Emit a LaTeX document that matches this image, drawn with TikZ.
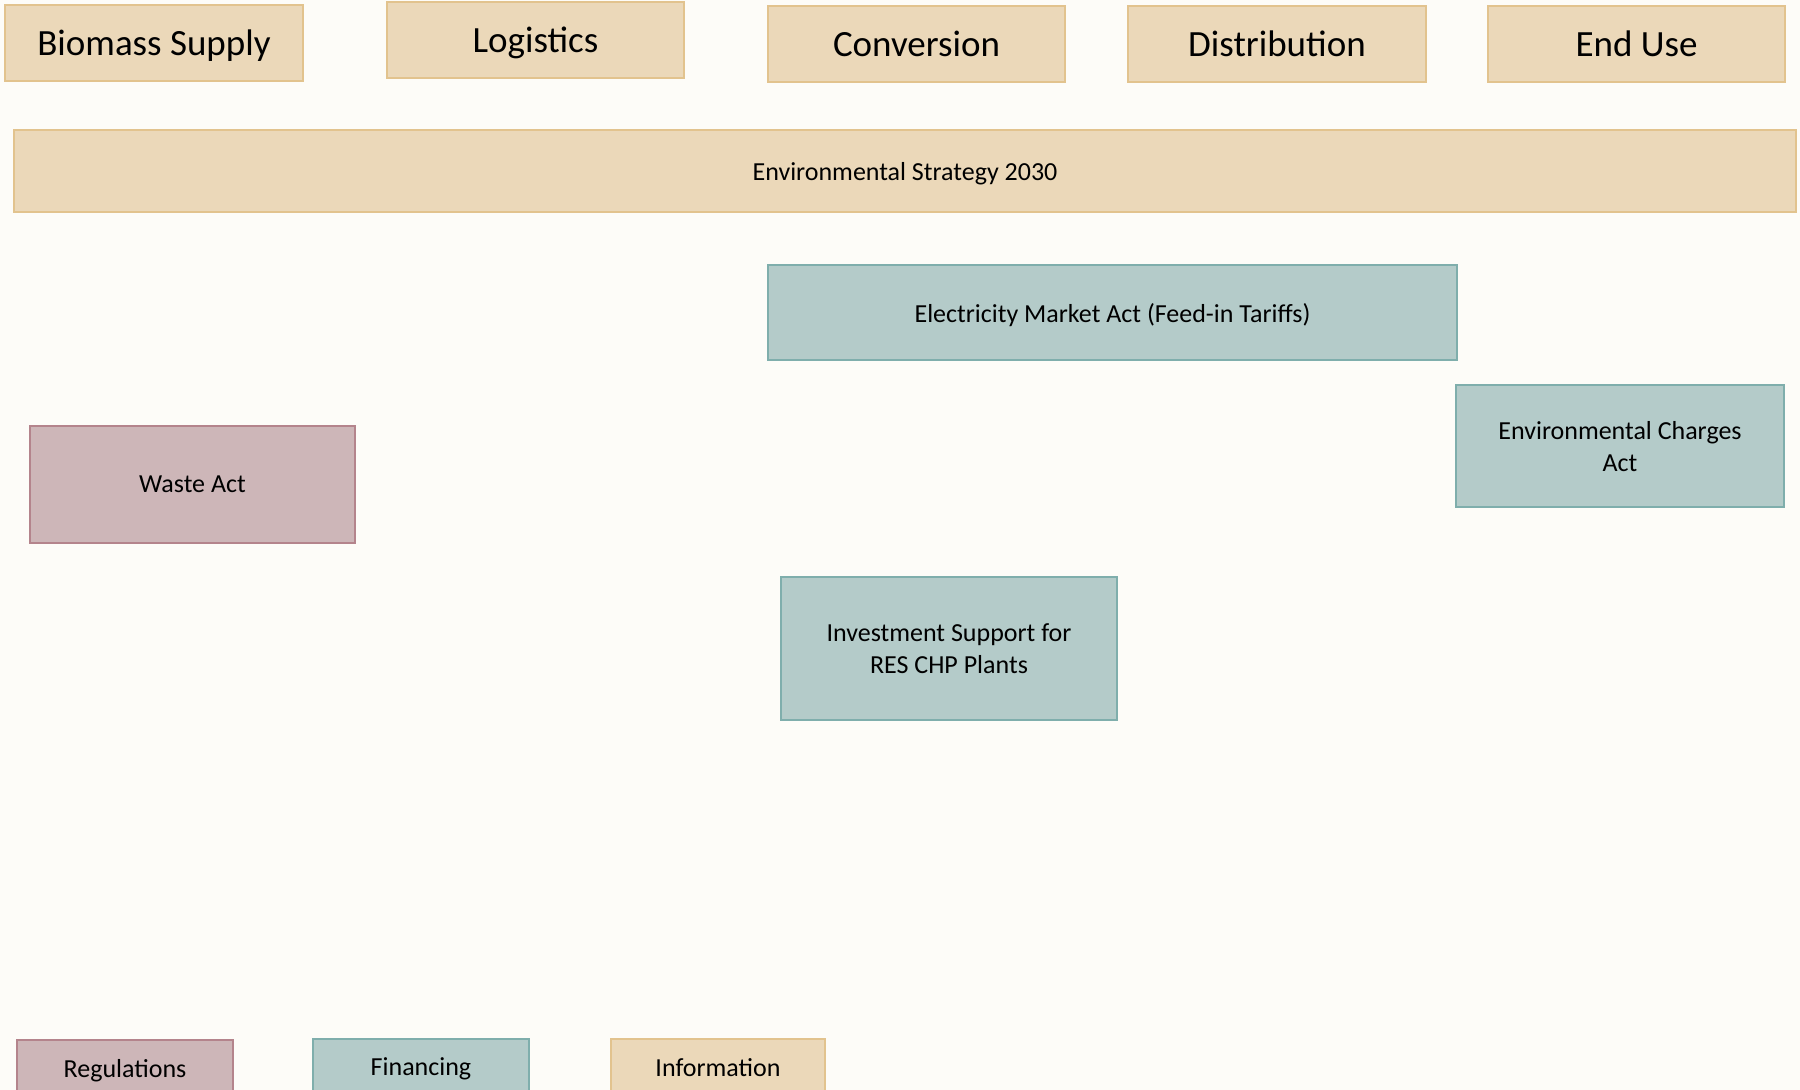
\documentclass[tikz,border=0pt]{standalone}
\usepackage{fontspec}
\setmainfont{Carlito}
\usetikzlibrary{positioning}
\definecolor{bgcol}{HTML}{FDFCF8}
\definecolor{infofill}{HTML}{EBD8B9}
\definecolor{infodraw}{HTML}{E2C38E}
\definecolor{finfill}{HTML}{B4CBC9}
\definecolor{findraw}{HTML}{7FAEAC}
\definecolor{regfill}{HTML}{CDB6B8}
\definecolor{regdraw}{HTML}{B4848C}
\tikzstyle{basebox}=[draw, line width=2pt, rectangle, inner sep=0pt, text depth=0pt, align=center, font=\fontsize{26}{32}\selectfont]
\tikzstyle{stagebox}=[basebox, fill=infofill, draw=infodraw, minimum height=76pt, font=\fontsize{37}{44}\selectfont]
\tikzstyle{infobox}=[basebox, fill=infofill, draw=infodraw]
\tikzstyle{finbox}=[basebox, fill=finfill, draw=findraw]
\tikzstyle{regbox}=[basebox, fill=regfill, draw=regdraw]

\begin{document}
\begin{tikzpicture}[x=1pt, y=-1pt]
    \fill[bgcol] (0,0) rectangle (1800,1090);
    \useasboundingbox (0,0) rectangle (1800,1090);

    % value chain stages
    \node[stagebox, minimum width=298pt] (biomass) at (154, 43) {Biomass Supply};
    \node[stagebox, minimum width=297pt] (logistics) at (535.5, 40) {Logistics};
    \node[stagebox, minimum width=297pt] (conversion) at (916.5, 44) {Conversion};
    \node[stagebox, minimum width=298pt] (distribution) at (1277, 44) {Distribution};
    \node[stagebox, minimum width=297pt] (enduse) at (1636.5, 44) {End Use};

    % policies
    \node[infobox, minimum width=1782pt, minimum height=82pt] (strategy) at (905, 171) {Environmental Strategy 2030};
    \node[finbox, minimum width=689pt, minimum height=95pt] (electricity) at (1112.5, 312.5) {Electricity Market Act (Feed-in Tariffs)};
    \node[finbox, minimum width=328pt, minimum height=122pt] (charges) at (1620, 446) {Environmental Charges\\Act};
    \node[regbox, minimum width=325pt, minimum height=117pt] (waste) at (192.5, 484.5) {Waste Act};
    \node[finbox, minimum width=336pt, minimum height=143pt] (investment) at (949, 648.5) {Investment Support for\\RES CHP Plants};

    % legend
    \node[regbox, minimum width=216pt, minimum height=56pt] (regulations) at (125, 1068) {Regulations};
    \node[finbox, minimum width=216pt, minimum height=56pt] (financing) at (421, 1067) {Financing};
    \node[infobox, minimum width=214pt, minimum height=56pt] (information) at (718, 1067) {Information};

\end{tikzpicture}
\end{document}
